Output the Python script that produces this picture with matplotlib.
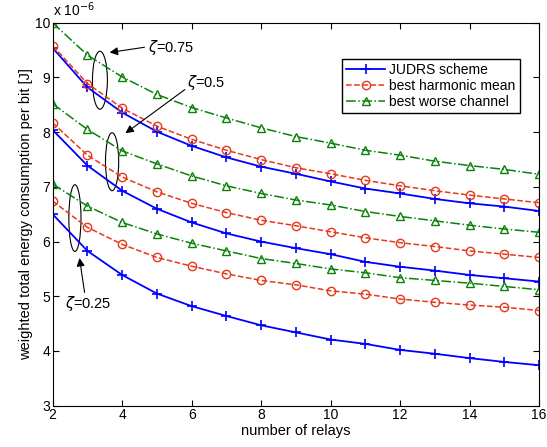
import matplotlib
matplotlib.use('Agg')
import matplotlib.pyplot as plt
from matplotlib.patches import Ellipse

plt.rcParams['font.family'] = ['Liberation Sans', 'DejaVu Sans']

relays = list(range(2, 17))

# values in units of 1e-6 J
judrs_075 = [9.54, 8.82, 8.36, 8.01, 7.75, 7.54, 7.37, 7.24, 7.10, 6.97, 6.88, 6.78, 6.70, 6.64, 6.56]
harm_075 = [9.58, 8.89, 8.44, 8.11, 7.87, 7.67, 7.50, 7.35, 7.24, 7.12, 7.02, 6.93, 6.85, 6.78, 6.71]
worse_075 = [10.0, 9.41, 9.01, 8.69, 8.45, 8.26, 8.08, 7.92, 7.80, 7.67, 7.58, 7.47, 7.39, 7.32, 7.23]

judrs_05 = [8.04, 7.39, 6.93, 6.60, 6.35, 6.15, 6.00, 5.88, 5.77, 5.63, 5.54, 5.47, 5.39, 5.33, 5.27]
harm_05 = [8.17, 7.58, 7.18, 6.91, 6.70, 6.53, 6.39, 6.29, 6.18, 6.07, 5.98, 5.91, 5.83, 5.77, 5.71]
worse_05 = [8.52, 8.05, 7.66, 7.42, 7.20, 7.02, 6.88, 6.76, 6.67, 6.55, 6.46, 6.38, 6.30, 6.23, 6.17]

judrs_025 = [6.50, 5.83, 5.39, 5.05, 4.82, 4.64, 4.47, 4.34, 4.21, 4.13, 4.02, 3.95, 3.87, 3.80, 3.74]
harm_025 = [6.74, 6.26, 5.95, 5.71, 5.55, 5.41, 5.29, 5.21, 5.10, 5.04, 4.95, 4.89, 4.84, 4.80, 4.74]
worse_025 = [7.05, 6.65, 6.35, 6.14, 5.97, 5.83, 5.69, 5.60, 5.50, 5.43, 5.34, 5.29, 5.24, 5.18, 5.12]

blue = '#0000ff'
red = '#e8381c'
green = '#0a820a'

fig = plt.figure(figsize=(5.47, 4.47), dpi=100)
ax = fig.add_axes([0.0963, 0.0924, 0.8891, 0.8566])

groups = [(judrs_075, harm_075, worse_075),
          (judrs_05, harm_05, worse_05),
          (judrs_025, harm_025, worse_025)]
for i, (j, h, w) in enumerate(groups):
    ax.plot(relays, j, '-', color=blue, marker='+', ms=7, mew=1.2, lw=1.3,
            label='JUDRS scheme' if i == 0 else None)
    ax.plot(relays, h, '--', color=red, marker='o', ms=6, mfc='none', mew=1.0, lw=1.1,
            label='best harmonic mean' if i == 0 else None)
    ax.plot(relays, w, '-.', color=green, marker='^', ms=6, mfc='none', mew=1.0, lw=1.1,
            label='best worse channel' if i == 0 else None)

ax.set_xlim(2, 16)
ax.set_ylim(3, 10)
ax.set_xticks(range(2, 17, 2))
ax.set_yticks(range(3, 11))
ax.tick_params(direction='in', top=True, right=True, labelsize=10, length=4, pad=2)
ax.set_xlabel('number of relays', fontsize=10.5, labelpad=1)
ax.set_ylabel('weighted total energy consumption per bit [J]', fontsize=10.5, labelpad=1)
ax.text(0.0, 1.01, 'x 10$^{-6}$', transform=ax.transAxes, fontsize=10, va='bottom')

# ellipses and arrows
ax.add_patch(Ellipse((3.36, 8.95), 0.43, 1.06, fill=False, ec='black', lw=0.8))
ax.add_patch(Ellipse((3.71, 7.46), 0.38, 1.06, fill=False, ec='black', lw=0.8))
ax.add_patch(Ellipse((2.64, 6.43), 0.35, 1.22, fill=False, ec='black', lw=0.8))

arrow = dict(arrowstyle='-|>', color='black', lw=0.8, mutation_scale=12)
ax.annotate('', xy=(3.56, 9.45), xytext=(4.72, 9.56), arrowprops=arrow)
ax.text(4.74, 9.54, r'$\zeta$=0.75', fontsize=10.5, va='center')
ax.annotate('', xy=(4.03, 7.95), xytext=(5.87, 8.81), arrowprops=arrow)
ax.text(5.87, 8.90, r'$\zeta$=0.5', fontsize=10.5, va='center')
ax.annotate('', xy=(2.76, 5.75), xytext=(2.93, 5.02), arrowprops=arrow)
ax.text(2.35, 4.87, r'$\zeta$=0.25', fontsize=10.5, va='center')

ax.legend(loc='upper right', bbox_to_anchor=(0.975, 0.924), fontsize=10,
          fancybox=False, edgecolor='black', framealpha=1, borderpad=0.3,
          handlelength=2.8, labelspacing=0.15, handletextpad=0.3)

fig.savefig('out.png', dpi=100)
